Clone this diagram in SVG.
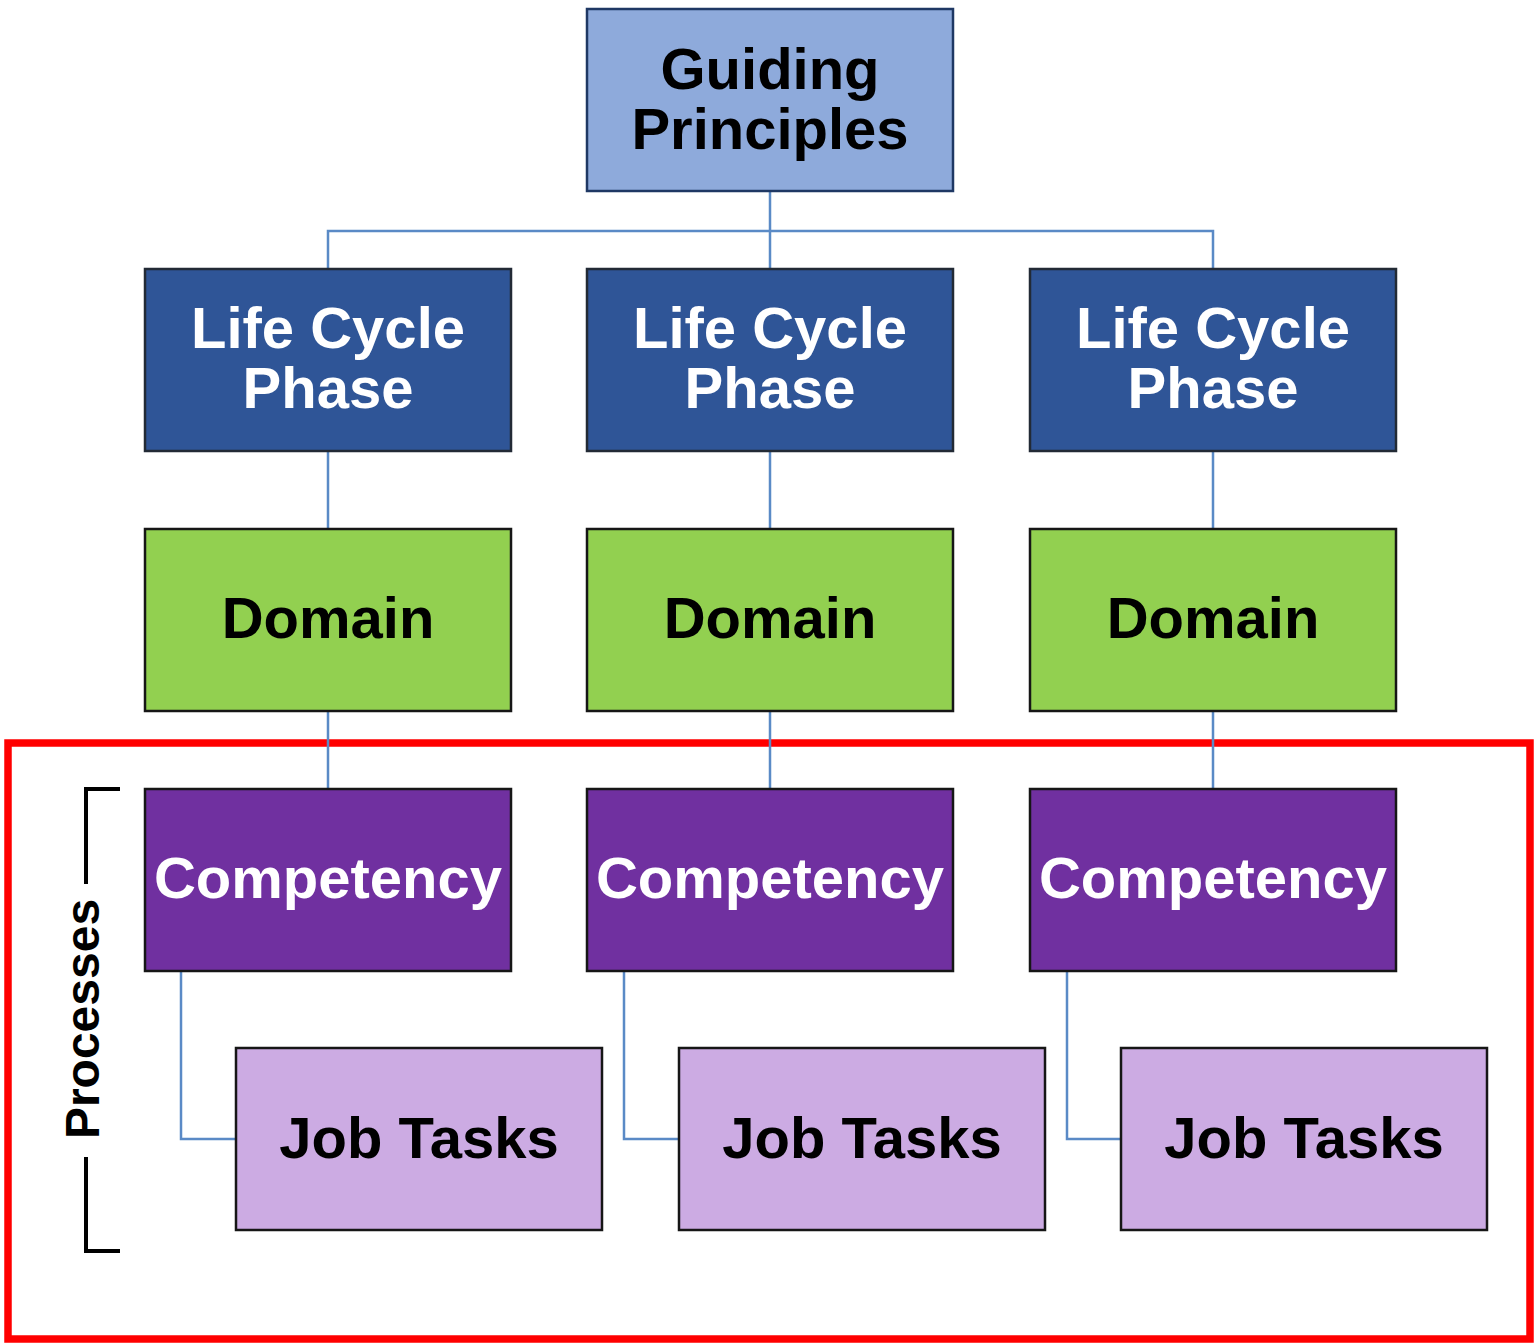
<svg xmlns="http://www.w3.org/2000/svg" width="1540" height="1343" viewBox="0 0 1540 1343">
  <style>
    .box { stroke: #161616; stroke-width: 2.5; }
    .gp { fill: #8eaadb; stroke: #1f3864; }
    .lcp { fill: #2f5597; stroke: #222a35; }
    .dom { fill: #92d050; }
    .comp { fill: #7030a0; }
    .job { fill: #ccabe3; }
    .lbl { font-family: "Liberation Sans", Arial, sans-serif; font-weight: bold; font-size: 58px; text-anchor: middle; }
    .dark { fill: #000000; }
    .light { fill: #ffffff; }
    .conn { fill: none; stroke: #5a8ac6; stroke-width: 2.5; }
    .bracket { fill: none; stroke: #000000; stroke-width: 4; }
  </style>
  <rect width="1540" height="1343" fill="#ffffff"/>

  <!-- processes frame -->
  <rect x="8" y="743" width="1522" height="596" fill="none" stroke="#ff0000" stroke-width="7.5"/>

  <!-- connectors -->
  <g id="connectors">
    <path class="conn" d="M770 191 V269 M328 269 V231 H1213 V269"/>
    <path class="conn" d="M328 451 V529 M770 451 V529 M1213 451 V529"/>
    <path class="conn" d="M328 711 V789 M770 711 V789 M1213 711 V789"/>
    <path class="conn" d="M181 971 V1139 H236 M624 971 V1139 H679 M1067 971 V1139 H1121"/>
  </g>

  <!-- top -->
  <g id="guiding-principles">
    <rect class="box gp" x="587" y="9" width="366" height="182"/>
    <text class="lbl dark" x="770" y="89">Guiding</text>
    <text class="lbl dark" x="770" y="149">Principles</text>
  </g>

  <!-- life cycle phases -->
  <g id="phase-1">
    <rect class="box lcp" x="145" y="269" width="366" height="182"/>
    <text class="lbl light" x="328" y="348">Life Cycle</text>
    <text class="lbl light" x="328" y="408">Phase</text>
  </g>
  <g id="phase-2">
    <rect class="box lcp" x="587" y="269" width="366" height="182"/>
    <text class="lbl light" x="770" y="348">Life Cycle</text>
    <text class="lbl light" x="770" y="408">Phase</text>
  </g>
  <g id="phase-3">
    <rect class="box lcp" x="1030" y="269" width="366" height="182"/>
    <text class="lbl light" x="1213" y="348">Life Cycle</text>
    <text class="lbl light" x="1213" y="408">Phase</text>
  </g>

  <!-- domains -->
  <g id="domain-1">
    <rect class="box dom" x="145" y="529" width="366" height="182"/>
    <text class="lbl dark" x="328" y="638">Domain</text>
  </g>
  <g id="domain-2">
    <rect class="box dom" x="587" y="529" width="366" height="182"/>
    <text class="lbl dark" x="770" y="638">Domain</text>
  </g>
  <g id="domain-3">
    <rect class="box dom" x="1030" y="529" width="366" height="182"/>
    <text class="lbl dark" x="1213" y="638">Domain</text>
  </g>

  <!-- competencies -->
  <g id="competency-1">
    <rect class="box comp" x="145" y="789" width="366" height="182"/>
    <text class="lbl light" x="328" y="898">Competency</text>
  </g>
  <g id="competency-2">
    <rect class="box comp" x="587" y="789" width="366" height="182"/>
    <text class="lbl light" x="770" y="898">Competency</text>
  </g>
  <g id="competency-3">
    <rect class="box comp" x="1030" y="789" width="366" height="182"/>
    <text class="lbl light" x="1213" y="898">Competency</text>
  </g>

  <!-- job tasks -->
  <g id="job-tasks-1">
    <rect class="box job" x="236" y="1048" width="366" height="182"/>
    <text class="lbl dark" x="419" y="1158">Job Tasks</text>
  </g>
  <g id="job-tasks-2">
    <rect class="box job" x="679" y="1048" width="366" height="182"/>
    <text class="lbl dark" x="862" y="1158">Job Tasks</text>
  </g>
  <g id="job-tasks-3">
    <rect class="box job" x="1121" y="1048" width="366" height="182"/>
    <text class="lbl dark" x="1304" y="1158">Job Tasks</text>
  </g>

  <!-- processes bracket -->
  <g id="processes">
    <path class="bracket" d="M120 789 H86 V884 M86 1157 V1251 H120"/>
    <text class="lbl dark" transform="translate(99 1019) rotate(-90)" x="0" y="0" style="font-size:48px">Processes</text>
  </g>
</svg>
